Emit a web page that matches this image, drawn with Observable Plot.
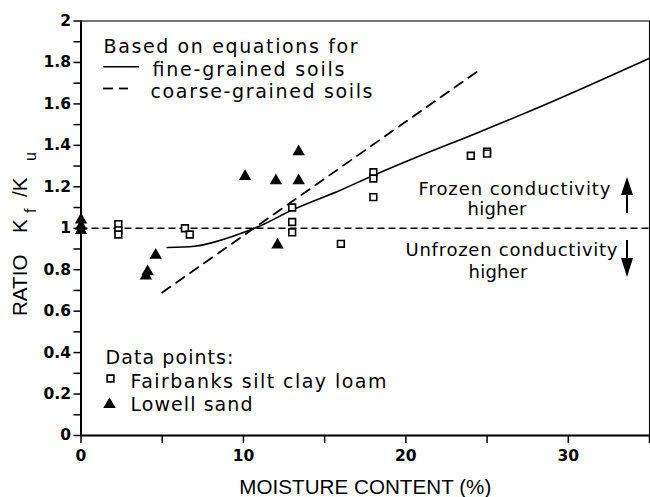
<!DOCTYPE html>
<html><head><meta charset="utf-8">
<script src="https://cdn.jsdelivr.net/npm/d3@7"></script>
<script src="https://cdn.jsdelivr.net/npm/@observablehq/plot@0.6"></script>
<style>
body{margin:0;background:#fff}
svg{display:block}
</style>
</head><body><div id="chart"></div>
<script>
// ---- data ----
const fairbanksX = [2.3, 2.3, 2.3, 6.4, 6.7, 13.0, 13.0, 13.0, 16.0, 18.0, 18.0, 18.0, 24.0, 25.0, 25.0];
const fairbanksY = [1.02, 0.99, 0.97, 1.00, 0.97, 1.10, 1.03, 0.98, 0.925, 1.27, 1.24, 1.15, 1.35, 1.37, 1.36];
const lowellX = [0, 0, 0, 4.0, 4.1, 4.6, 10.1, 12.0, 12.1, 13.4, 13.4];
const lowellY = [1.04, 1.01, 0.99, 0.77, 0.79, 0.87, 1.25, 1.23, 0.92, 1.37, 1.23];
const fineX = [5.3, 7.0, 8.6, 10.2, 11.05, 13.0, 16.0, 18.0, 21.1, 24.2, 29.1, 35];
const fineY = [0.907, 0.913, 0.942, 0.985, 1.012, 1.088, 1.185, 1.255, 1.357, 1.454, 1.614, 1.82];
const coarseX = [5.0, 24.4];
const coarseY = [0.69, 1.756];
const referenceRatio = [1];
const xMajorTicks = [0, 10, 20, 30];
const xMinorTicks = [5, 15, 25, 35];
const yMajorTicks = [0, 0.2, 0.4, 0.6, 0.8, 1, 1.2, 1.4, 1.6, 1.8, 2];
const yMinorTicks = [0.1, 0.3, 0.5, 0.7, 0.9, 1.1, 1.3, 1.5, 1.7, 1.9];
const xLabel = "MOISTURE CONTENT (%)";
const legendTitle = "Based on equations for";
const fineLabel = "fine-grained soils";
const coarseLabel = "coarse-grained soils";
const pointsTitle = "Data points:";
const fairbanksLabel = "Fairbanks silt clay loam";
const lowellLabel = "Lowell sand";
const frozenNote = "Frozen conductivity";
const unfrozenNote = "Unfrozen conductivity";
const higherNote = "higher";

// ---- build tables ----
const fairbanks = fairbanksX.map((x, i) => ({x, y: fairbanksY[i]}));
const lowell = lowellX.map((x, i) => ({x, y: lowellY[i]}));
const fine = fineX.map((x, i) => ({x, y: fineY[i]}));
const coarse = coarseX.map((x, i) => ({x, y: coarseY[i]}));

const W = 650, H = 497, mL = 80.5, mR = 1, mT = 20.5, mB = 62;
const sans = "'DejaVu Sans', sans-serif";
const lib = "'Liberation Sans', Arial, sans-serif";
const fmt = d => String(+d.toFixed(1));

// target rendered widths (layout) for the annotation texts
const widths = new Map([
  [legendTitle, 254], [fineLabel, 192], [coarseLabel, 222], [pointsTitle, 128],
  [fairbanksLabel, 256], [lowellLabel, 122], [frozenNote, 192], [unfrozenNote, 212],
  [higherNote, 59], [xLabel, 252]
]);

function anno(str, px, baseline, fs) {
  return Plot.text([str], {
    text: d => d, frameAnchor: "top-left", dx: px - mL, dy: baseline - mT,
    textAnchor: "start", lineAnchor: "bottom", fontSize: fs, fontFamily: sans, fill: "#000"
  });
}

const chart = Plot.plot({
  width: W, height: H,
  marginLeft: mL, marginRight: mR, marginTop: mT, marginBottom: mB,
  x: {domain: [0, 35]},
  y: {domain: [0, 2]},
  style: {background: "#fff", color: "#000", fontFamily: sans, overflow: "visible"},
  marks: [
    Plot.frame({stroke: "#000", strokeWidth: 1.1}),
    Plot.ruleY(referenceRatio, {stroke: "#000", strokeWidth: 1.3, strokeDasharray: "7,4"}),
    Plot.line(fine, {x: "x", y: "y", curve: "monotone-x", stroke: "#000", strokeWidth: 1.6}),
    Plot.line(coarse, {x: "x", y: "y", stroke: "#000", strokeWidth: 1.8, strokeDasharray: "10,7"}),
    Plot.dot(fairbanks, {x: "x", y: "y", symbol: "square", r: 3.8, stroke: "#000", fill: "#fff", strokeWidth: 1.6}),
    Plot.dot(lowell, {x: "x", y: "y", symbol: "triangle", r: 4.6, fill: "#000", stroke: "none"}),
    Plot.ruleX([0], {stroke: "#000", strokeWidth: 2}),
    Plot.ruleY([0], {stroke: "#000", strokeWidth: 2}),
    Plot.axisY({ticks: yMajorTicks, tickFormat: fmt, tickSize: 7, tickPadding: 3, fontSize: 15.5,
      fontWeight: "bold", fontFamily: sans, label: null, strokeWidth: 1.5, ariaLabel: "y-major"}),
    Plot.axisY({ticks: yMinorTicks, tickFormat: () => "", tickSize: 7, label: null, strokeWidth: 1.5}),
    Plot.axisX({ticks: xMajorTicks, tickFormat: fmt, tickSize: 8, tickPadding: 6, fontSize: 15.5,
      fontWeight: "bold", fontFamily: sans, label: null, strokeWidth: 1.5, ariaLabel: "x-major"}),
    Plot.axisX({ticks: xMinorTicks, tickFormat: () => "", tickSize: 8, label: null, strokeWidth: 1.5}),
    Plot.text([xLabel], {text: d => d, frameAnchor: "bottom", dy: 493 - 435, lineAnchor: "bottom",
      fontSize: 20.6, fontFamily: lib, fill: "#000"}),
    anno(legendTitle, 103, 52, 19),
    anno(fineLabel, 152, 75, 19),
    anno(coarseLabel, 150, 97, 19),
    anno(pointsTitle, 105, 363, 19),
    anno(fairbanksLabel, 130, 387, 19),
    anno(lowellLabel, 130, 410, 19),
    anno(frozenNote, 418, 194, 18),
    anno(higherNote, 467, 214, 18),
    anno(unfrozenNote, 405, 255, 18),
    anno(higherNote, 468, 277, 18),
    Plot.dot([0], {frameAnchor: "top-left", dx: 110 - mL, dy: 378 - mT, symbol: "square", r: 3.8,
      stroke: "#000", fill: "#fff", strokeWidth: 1.6}),
    Plot.dot([0], {frameAnchor: "top-left", dx: 109 - mL, dy: 404 - mT, symbol: "triangle", r: 4.6,
      fill: "#000", stroke: "none"})
  ]
});
document.getElementById("chart").appendChild(chart);

const svg = d3.select(chart);
svg.selectAll("text").each(function () {
  const t = this.textContent;
  if (widths.has(t)) d3.select(this).attr("textLength", widths.get(t)).attr("lengthAdjust", "spacing");
});
svg.selectAll("g[aria-label='y-major'] text, g[aria-label='x-major'] text").attr("font-weight", "bold");

// legend line samples and arrows (layout decoration)
const deco = svg.append("g").attr("stroke", "#000").attr("fill", "none");
deco.append("line").attr("x1", 103).attr("x2", 139).attr("y1", 66.7).attr("y2", 66.7).attr("stroke-width", 1.6);
deco.append("line").attr("x1", 103).attr("x2", 113).attr("y1", 88.5).attr("y2", 88.5).attr("stroke-width", 1.8);
deco.append("line").attr("x1", 119).attr("x2", 128).attr("y1", 88.5).attr("y2", 88.5).attr("stroke-width", 1.8);
deco.append("line").attr("x1", 627).attr("x2", 627).attr("y1", 213).attr("y2", 192).attr("stroke-width", 2);
deco.append("path").attr("d", "M621,195 L627,177 L633,195 Z").attr("fill", "#000").attr("stroke", "none");
deco.append("line").attr("x1", 627).attr("x2", 627).attr("y1", 240).attr("y2", 260).attr("stroke-width", 2);
deco.append("path").attr("d", "M621,258 L627,277 L633,258 Z").attr("fill", "#000").attr("stroke", "none");

// y-axis label with subscripts
const yl = svg.append("text").attr("transform", "translate(27,0) rotate(-90)")
  .attr("text-anchor", "start").attr("font-family", lib).attr("font-size", 20.6).attr("fill", "#000");
yl.append("tspan").attr("x", -316).text("RATIO");
yl.append("tspan").attr("x", -233).text("K");
yl.append("tspan").attr("x", -213).attr("dy", 9).attr("font-size", 16).text("f");
yl.append("tspan").attr("x", -197).attr("dy", -9).text("/K");
yl.append("tspan").attr("x", -161).attr("dy", 9).attr("font-size", 16).text("u");
</script>
</body></html>
